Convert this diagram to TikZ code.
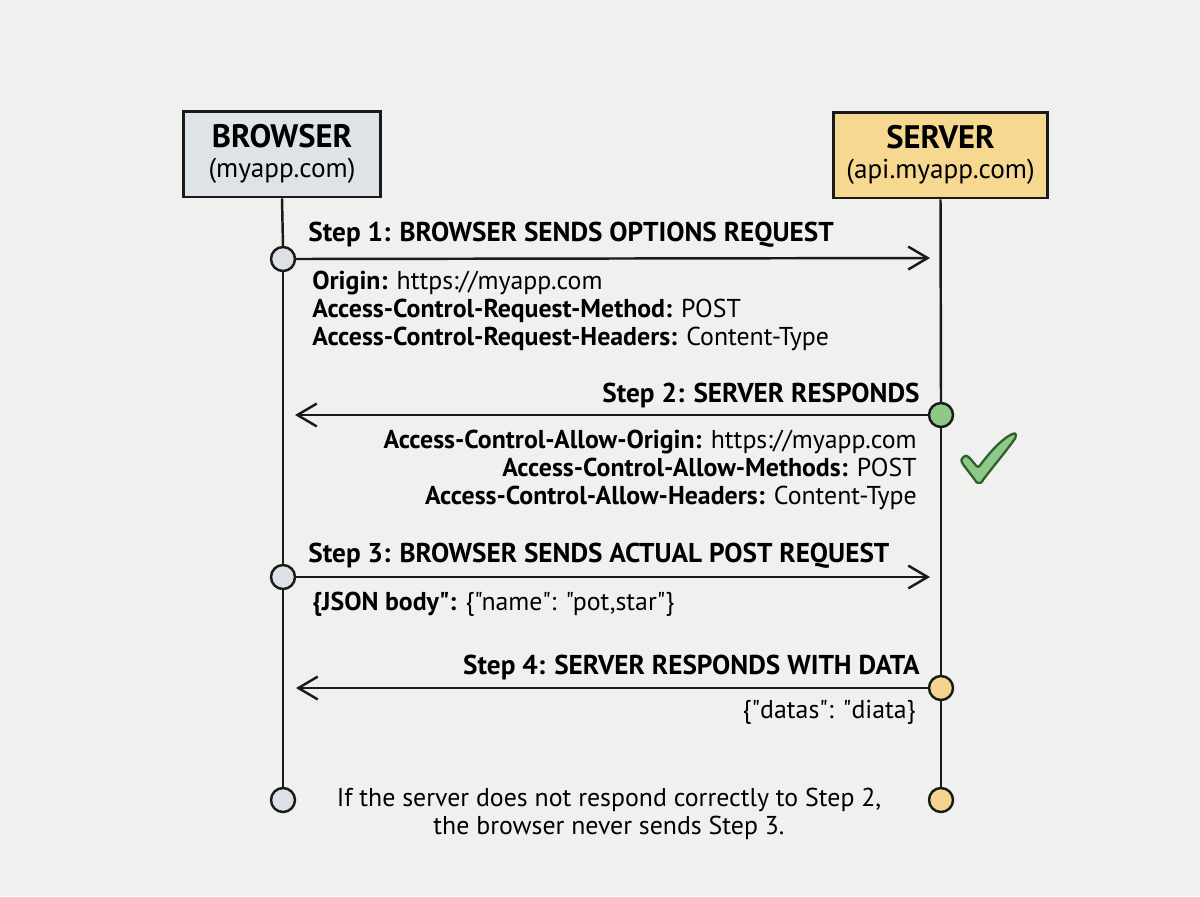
\documentclass[tikz,border=0pt]{standalone}
\usepackage{fontspec}
\setmainfont{PT Sans}[Ligatures=TeXOff]
\usetikzlibrary{arrows.meta}
\definecolor{bg}{HTML}{F0F0EE}
\definecolor{ink}{HTML}{1A1A1A}
\definecolor{bfill}{HTML}{DEE3E7}
\definecolor{sfill}{HTML}{F7D890}
\definecolor{gfill}{HTML}{8FC98A}
\definecolor{gdark}{HTML}{2F5F2C}
\definecolor{cgray}{HTML}{DCE1E5}
\definecolor{cyell}{HTML}{F5D48E}
\newcommand\qq{\symbol{34}}
\tikzset{
  actor/.style={draw=ink, line width=1.7pt, minimum height=1.72cm, align=center, inner sep=0pt, font=\fontsize{15.5}{17.5}\selectfont},
  life/.style={draw=ink, line width=1.4pt},
  dot/.style={circle, draw=ink, line width=1.4pt, minimum size=0.48cm, inner sep=0pt},
  msg/.style={draw=ink, line width=1.4pt, -{Straight Barb[length=11pt,width=13pt,line width=1.4pt]}},
  steplbl/.style={inner sep=0pt, font=\fontsize{15.5}{18}\selectfont\bfseries},
  hdr/.style={inner sep=0pt, font=\fontsize{14.7}{15.9}\selectfont},
}
\begin{document}
\begin{tikzpicture}[x=0.02cm,y=-0.02cm]
\useasboundingbox[fill=bg] (0,0) rectangle (1200,896);
\node[actor, fill=bfill, minimum width=3.96cm] (browser) at (282,154) {{\fontsize{18.5}{17.5}\selectfont\bfseries BROWSER}\\(myapp.com)};
\node[actor, fill=sfill, minimum width=4.3cm] (server) at (940.5,155) {{\fontsize{18.5}{17.5}\selectfont\bfseries SERVER}\\(api.myapp.com)};
% coordinates on lifelines
\coordinate (s1) at (941,258);
\coordinate (b2) at (283,415);
\coordinate (s3) at (941,577);
\coordinate (b4) at (283,688);
\node[dot, fill=cgray] (b1) at (283,259) {};
\node[dot, fill=gfill] (s2) at (941,415) {};
\node[dot, fill=cgray] (b3) at (283,577) {};
\node[dot, fill=cyell] (s4) at (941,688) {};
\node[dot, fill=cgray] (bend) at (283,800) {};
\node[dot, fill=cyell] (send) at (941,800) {};
% lifelines
\draw[life] (browser.south) -- (b1.north);
\draw[life] (b1.south) -- (b3.north);
\draw[life] (b3.south) -- (bend.north);
\draw[life] (server.south) -- (s2.north);
\draw[life] (s2.south) -- (s4.north);
\draw[life] (s4.south) -- (send.north);
% messages
\draw[msg, shorten >=11*0.02cm] (b1.east) -- (s1);
\draw[msg, shorten >=12*0.02cm] (s2.west) -- (b2);
\draw[msg, shorten >=11*0.02cm] (b3.east) -- (s3);
\draw[msg, shorten >=13*0.02cm] (s4.west) -- (b4);
% labels
\node[steplbl, anchor=west] (l1) at (308,235) {Step 1: BROWSER SENDS OPTIONS REQUEST};
\node[hdr, anchor=north west, align=left] (h1) at (312,271) {\textbf{Origin:} https://myapp.com\\\textbf{Access-Control-Request-Method:} POST\\\textbf{Access-Control-Request-Headers:} Content-Type};
\node[steplbl, anchor=east] (l2) at (920,395) {Step 2: SERVER RESPONDS};
\node[hdr, anchor=north east, align=right] (h2) at (917,430) {\textbf{Access-Control-Allow-Origin:} https://myapp.com\\\textbf{Access-Control-Allow-Methods:} POST\\\textbf{Access-Control-Allow-Headers:} Content-Type};
\node[steplbl, anchor=west] (l3) at (308,556) {Step 3: BROWSER SENDS ACTUAL POST REQUEST};
\node[hdr, anchor=west] (h3) at (312,604) {\textbf{\{JSON body\qq:} \{\qq name\qq: \qq pot,star\qq\}};
\node[steplbl, anchor=east] (l4) at (920,667) {Step 4: SERVER RESPONDS WITH DATA};
\node[hdr, anchor=east] (h4) at (916,712) {\{\qq datas\qq: \qq diata\}};
\node[hdr, align=center] (note) at (609,814) {If the server does not respond correctly to Step 2,\\the browser never sends Step 3.};
% check mark
\draw[draw=gdark, fill=gfill, line width=1.3pt, line join=round, rounded corners=1.5pt]
  (962,463) .. controls (961,459) and (965,455) .. (969,457) -- (978,468)
  .. controls (990,452) and (1000,441) .. (1012,434)
  .. controls (1016,433) and (1016,437) .. (1014,440)
  .. controls (1003,455) and (992,468) .. (983,480)
  .. controls (981,483) and (977,483) .. (975,480) -- cycle;
\end{tikzpicture}
\end{document}
